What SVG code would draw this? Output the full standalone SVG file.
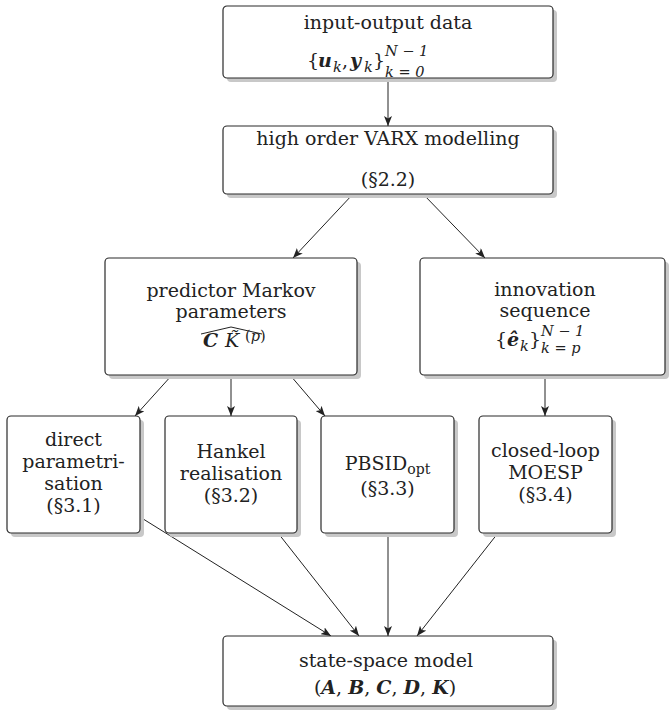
<svg xmlns="http://www.w3.org/2000/svg" width="669" height="711" viewBox="0 0 669 711">
<style>
.box{fill:#fff;stroke:#2a2a2a;stroke-width:1.2}
.sh{fill:#c8c8c8}
.t{font-family:'DejaVu Serif','Liberation Serif',serif;font-size:19px;fill:#222;text-anchor:middle}
.m{font-family:'DejaVu Serif','Liberation Serif',serif;font-size:19px;fill:#222}
.bi{font-weight:bold;font-style:italic}
.it{font-style:italic}
.s{font-size:14.5px}
.c{stroke:#222;stroke-width:1;fill:none;marker-end:url(#ah)}
</style>
<defs>
<marker id="ah" viewBox="0 0 10 8" refX="10" refY="4" markerWidth="10" markerHeight="8" markerUnits="userSpaceOnUse" orient="auto">
<path d="M0,0 L10,4 L0,8 L2.5,4 Z" fill="#222"/>
</marker>
</defs>
<rect width="669" height="711" fill="#fff"/>
<g id="connectors">
<line class="c" x1="388" y1="78" x2="388" y2="126"/>
<line class="c" x1="353" y1="194" x2="293" y2="258"/>
<line class="c" x1="423" y1="194" x2="485" y2="258"/>
<line class="c" x1="172" y1="375" x2="135" y2="416"/>
<line class="c" x1="231" y1="375" x2="231" y2="416"/>
<line class="c" x1="290" y1="375" x2="325" y2="416"/>
<line class="c" x1="545" y1="375" x2="545" y2="416"/>
<line class="c" x1="140" y1="517" x2="331" y2="636"/>
<line class="c" x1="278" y1="533" x2="359" y2="636"/>
<line class="c" x1="388" y1="533" x2="388" y2="636"/>
<line class="c" x1="498" y1="533" x2="417" y2="636"/>
</g>
<g id="n1">
<rect class="sh" x="227" y="10" width="330" height="72" rx="4"/>
<rect class="box" x="223" y="6" width="330" height="72" rx="4"/>
<text class="t" x="388" y="29">input-output data</text>
<text class="m" x="307" y="67">{</text>
<text class="m bi" x="318" y="67">u</text>
<text class="m it s" x="333" y="72">k</text>
<text class="m" x="342" y="67">,</text>
<text class="m bi" x="350" y="67">y</text>
<text class="m it s" x="364" y="72">k</text>
<text class="m" x="373" y="67">}</text>
<text class="m it s" x="385" y="56">N<tspan font-style="normal"> − </tspan>1</text>
<text class="m it s" x="385" y="77">k<tspan font-style="normal"> = </tspan>0</text>
</g>
<g id="n2">
<rect class="sh" x="227" y="130" width="330" height="68" rx="4"/>
<rect class="box" x="223" y="126" width="330" height="68" rx="4"/>
<text class="t" x="388" y="145">high order VARX modelling</text>
<text class="t" x="388" y="186">(§2.2)</text>
</g>
<g id="n3">
<rect class="sh" x="109" y="262" width="252" height="117" rx="4"/>
<rect class="box" x="105" y="258" width="252" height="117" rx="4"/>
<text class="t" x="231" y="297">predictor Markov</text>
<text class="t" x="231" y="318">parameters</text>
<polyline points="201,334 231,327 262,334" fill="none" stroke="#222" stroke-width="1"/>
<text class="m bi" x="203" y="347">C</text>
<text class="m it" x="225" y="347">K̃</text>
<text class="m s" x="245" y="341">(<tspan class="it">p</tspan>)</text>
</g>
<g id="n4">
<rect class="sh" x="424" y="262" width="245" height="117" rx="4"/>
<rect class="box" x="420" y="258" width="245" height="117" rx="4"/>
<text class="t" x="545" y="296">innovation</text>
<text class="t" x="545" y="317">sequence</text>
<text class="m" x="495" y="346">{</text>
<text class="m bi" x="507" y="346">ê</text>
<text class="m it s" x="520" y="351">k</text>
<text class="m" x="529" y="346">}</text>
<text class="m it s" x="541" y="336">N<tspan font-style="normal"> − </tspan>1</text>
<text class="m it s" x="541" y="353">k<tspan font-style="normal"> = </tspan>p</text>
</g>
<g id="n5">
<rect class="sh" x="11" y="420" width="133" height="117" rx="4"/>
<rect class="box" x="7" y="416" width="133" height="117" rx="4"/>
<text class="t" x="73.5" y="446">direct</text>
<text class="t" x="73.5" y="468">parametri-</text>
<text class="t" x="73.5" y="490">sation</text>
<text class="t" x="73.5" y="512">(§3.1)</text>
</g>
<g id="n6">
<rect class="sh" x="169" y="420" width="132" height="117" rx="4"/>
<rect class="box" x="165" y="416" width="132" height="117" rx="4"/>
<text class="t" x="231" y="458">Hankel</text>
<text class="t" x="231" y="480">realisation</text>
<text class="t" x="231" y="502">(§3.2)</text>
</g>
<g id="n7">
<rect class="sh" x="325" y="420" width="133" height="117" rx="4"/>
<rect class="box" x="321" y="416" width="133" height="117" rx="4"/>
<text class="t" x="387.5" y="470">PBSID<tspan font-size="14" dy="4">opt</tspan></text>
<text class="t" x="387.5" y="495">(§3.3)</text>
</g>
<g id="n8">
<rect class="sh" x="483" y="420" width="133" height="117" rx="4"/>
<rect class="box" x="479" y="416" width="133" height="117" rx="4"/>
<text class="t" x="545.5" y="457">closed-loop</text>
<text class="t" x="545.5" y="479">MOESP</text>
<text class="t" x="545.5" y="501">(§3.4)</text>
</g>
<g id="n9">
<rect class="sh" x="227" y="640" width="330" height="70" rx="4"/>
<rect class="box" x="223" y="636" width="330" height="70" rx="4"/>
<text class="t" x="386" y="667">state-space model</text>
<text class="t" x="385" y="694">(<tspan class="bi">A</tspan>, <tspan class="bi">B</tspan>, <tspan class="bi">C</tspan>, <tspan class="bi">D</tspan>, <tspan class="bi">K</tspan>)</text>
</g>
</svg>
